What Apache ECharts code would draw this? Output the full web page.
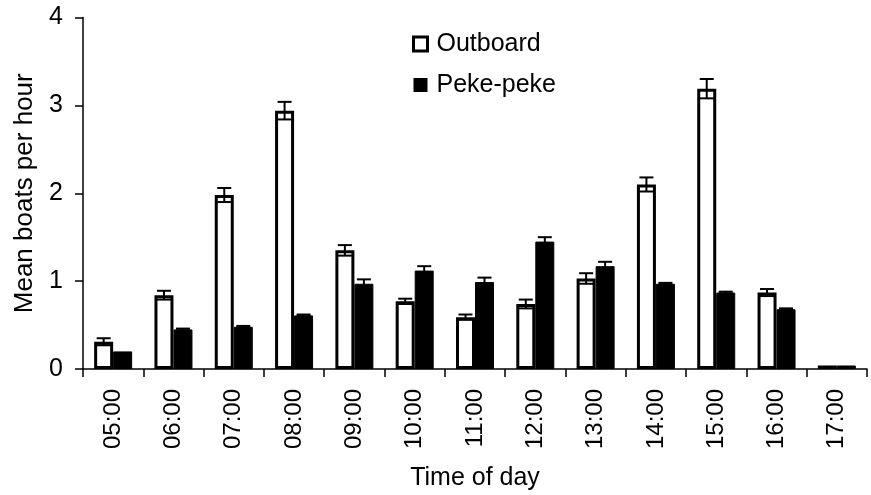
<!DOCTYPE html>
<html>
<head>
<meta charset="utf-8">
<script src="https://cdn.jsdelivr.net/npm/echarts@6/dist/echarts.min.js"></script>
<style>
  html, body { margin: 0; padding: 0; background: #fff; }
  #chart { width: 871px; height: 495px; }
</style>
</head>
<body>
<div id="chart"></div>
<script>
// Hourly boat counts by type (mean ± SE)
const hours = ['05:00', '06:00', '07:00', '08:00', '09:00', '10:00', '11:00',
               '12:00', '13:00', '14:00', '15:00', '16:00', '17:00'];
const outboardMean = [0.31, 0.84, 1.98, 2.94, 1.35, 0.77, 0.59, 0.74, 1.03, 2.10, 3.19, 0.87, 0.04];
const outboardSE   = [0.04, 0.05, 0.08, 0.10, 0.06, 0.03, 0.03, 0.05, 0.06, 0.08, 0.11, 0.04, 0.00];
const pekeMean     = [0.20, 0.45, 0.48, 0.61, 0.97, 1.12, 0.99, 1.45, 1.17, 0.97, 0.87, 0.68, 0.04];
const pekeSE       = [0.00, 0.01, 0.01, 0.01, 0.05, 0.05, 0.05, 0.05, 0.05, 0.01, 0.01, 0.01, 0.00];
const yTicks = [0, 1, 2, 3, 4];

const FONT = "'Liberation Sans', Arial, sans-serif";
const BAR_W = 19;   // px, each bar; the pair sits side by side with no gap
const CAP_W = 14;   // px, error-bar cap width

function errorBars(name, means, ses, offset) {
  return {
    type: 'custom',
    name: name + ' SE',
    z: 5,
    silent: true,
    encode: { x: 0, y: 1 },
    data: means.map((m, i) => [i, m, ses[i]]),
    renderItem(params, api) {
      const i = api.value(0), m = api.value(1), se = api.value(2);
      if (!(se > 0)) return null;
      const hi = api.coord([i, m + se]);
      const lo = api.coord([i, m - se]);
      const x = hi[0] + offset;
      const style = { stroke: '#000', lineWidth: 2 };
      return {
        type: 'group',
        children: [
          { type: 'line', shape: { x1: x, y1: hi[1], x2: x, y2: lo[1] }, style },
          { type: 'line', shape: { x1: x - CAP_W / 2, y1: hi[1], x2: x + CAP_W / 2, y2: hi[1] }, style },
          { type: 'line', shape: { x1: x - CAP_W / 2, y1: lo[1], x2: x + CAP_W / 2, y2: lo[1] }, style }
        ]
      };
    }
  };
}

const chart = echarts.init(document.getElementById('chart'), null, { renderer: 'canvas' });
chart.setOption({
  animation: false,
  backgroundColor: '#fff',
  textStyle: { fontFamily: FONT, color: '#000' },
  grid: { left: 83, right: 4, top: 17.5, bottom: 126, outerBoundsMode: 'none' },
  legend: {
    orient: 'vertical',
    left: 412,
    top: 30,
    padding: 0,
    itemWidth: 14,
    itemHeight: 14,
    itemGap: 13,
    textStyle: { fontFamily: FONT, fontSize: 25, color: '#000', lineHeight: 28, padding: [0, 0, 0, 4] },
    data: [
      { name: 'Outboard', icon: 'rect', itemStyle: { color: '#fff', borderColor: '#000', borderWidth: 3 } },
      { name: 'Peke-peke', icon: 'rect', itemStyle: { color: '#000', borderWidth: 0 } }
    ]
  },
  xAxis: {
    type: 'category',
    data: hours,
    name: 'Time of day',
    nameLocation: 'middle',
    nameGap: 97,
    nameTextStyle: { fontFamily: FONT, fontSize: 25, color: '#000' },
    axisLine: { lineStyle: { color: '#000', width: 1.5 } },
    axisTick: { show: true, length: 8, inside: false, alignWithLabel: false, lineStyle: { color: '#000', width: 1.5 } },
    axisLabel: { rotate: 90, margin: 20, fontFamily: FONT, fontSize: 24, color: '#000', interval: 0 },
    splitLine: { show: false }
  },
  yAxis: {
    type: 'value',
    min: yTicks[0],
    max: yTicks[yTicks.length - 1],
    interval: 1,
    name: 'Mean boats per hour',
    nameLocation: 'middle',
    nameGap: 44,
    nameTextStyle: { fontFamily: FONT, fontSize: 26, color: '#000' },
    axisLine: { show: true, lineStyle: { color: '#000', width: 1.5 } },
    axisTick: { show: true, length: 8, inside: false, lineStyle: { color: '#000', width: 1.5 } },
    axisLabel: { margin: 20, fontFamily: FONT, fontSize: 25, color: '#000' },
    splitLine: { show: false }
  },
  series: [
    {
      type: 'bar',
      name: 'Outboard',
      data: outboardMean,
      barWidth: BAR_W,
      barGap: '0%',
      z: 2,
      itemStyle: { color: '#fff', borderColor: '#000', borderWidth: 3 }
    },
    {
      type: 'bar',
      name: 'Peke-peke',
      data: pekeMean,
      barWidth: BAR_W,
      barGap: '0%',
      z: 3,
      itemStyle: { color: '#000', borderColor: '#000', borderWidth: 1 }
    },
    errorBars('Outboard', outboardMean, outboardSE, -BAR_W / 2),
    errorBars('Peke-peke', pekeMean, pekeSE, BAR_W / 2)
  ]
});
</script>
</body>
</html>
